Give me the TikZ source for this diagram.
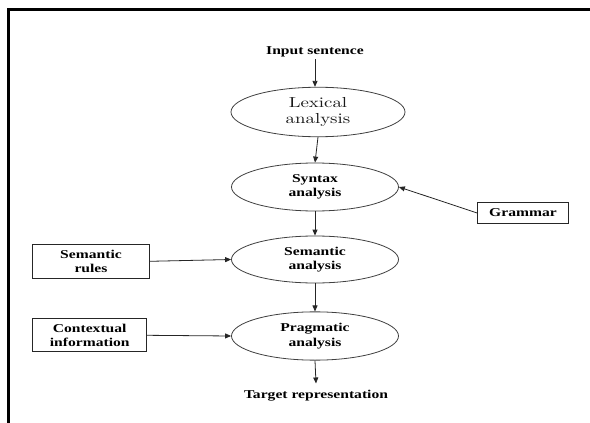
\documentclass[tikz,border=0pt]{standalone}
\usepackage{fontspec}
\setmainfont{Liberation Serif}[FakeStretch=1.3]
\newfontfamily\lmfont{lmroman10-regular.otf}[FakeStretch=1.3]
\usetikzlibrary{shapes.geometric,arrows.meta}
\begin{document}
\begin{tikzpicture}[x=1pt,y=-1pt,
  lbl/.style={font=\fontsize{12}{14.5}\selectfont\bfseries, align=center},
  oval/.style={ellipse, draw=black!75, line width=0.8pt, inner sep=0pt, lbl},
  rbox/.style={rectangle, draw=black!85, line width=1pt, inner sep=0pt, lbl},
  plain/.style={lbl, inner sep=0pt},
  arr/.style={draw=black!85, line width=0.8pt, -{Triangle[length=6pt,width=5pt]}}
]
\useasboundingbox (0,0) rectangle (590,423);
\fill[white] (0,0) rectangle (590,423);
% frame
\draw[line width=2.5pt, line join=miter] (590,9.5) -- (8.5,9.5) -- (8.5,423);

% nodes
\node[plain, anchor=base, inner sep=2.5pt] (in) at (315,54) {Input sentence};
\node[oval, minimum width=174pt, minimum height=49.5pt,
      font=\fontsize{14.5}{16.8}\selectfont\lmfont, text=black!90] (lex) at (318,112) {Lexical\\analysis};
\node[oval, minimum width=167pt, minimum height=48pt] (syn) at (315,187) {Syntax\\analysis};
\node[oval, minimum width=167pt, minimum height=47pt] (sem) at (315,259.5) {Semantic\\analysis};
\node[oval, minimum width=167pt, minimum height=48.3pt] (prag) at (315,336) {Pragmatic\\analysis};
\node[rbox, minimum width=90.6pt, minimum height=21.7pt] (gram) at (523,213) {Grammar};
\node[rbox, minimum width=116.6pt, minimum height=34pt] (rules) at (91,261.3) {Semantic\\rules};
\node[rbox, minimum width=114pt, minimum height=32.7pt] (ctx) at (89.7,335.3) {Contextual\\information};
\node[plain, anchor=base, inner sep=6pt] (tgt) at (316,398) {Target representation};

% connectors
\draw[arr] (in.south) -- (in.south |- lex.north);
\draw[arr] (lex.south) -- (syn.north);
\draw[arr] (syn.south) -- (sem.north);
\draw[arr] (sem.south) -- (prag.north);
\draw[arr] (prag.south) -- (tgt.north);
\draw[arr] (gram.west) -- (syn.east);
\draw[arr] (rules.east) -- (sem.west);
\draw[arr] (ctx.east) -- (prag.west);
\end{tikzpicture}
\end{document}
